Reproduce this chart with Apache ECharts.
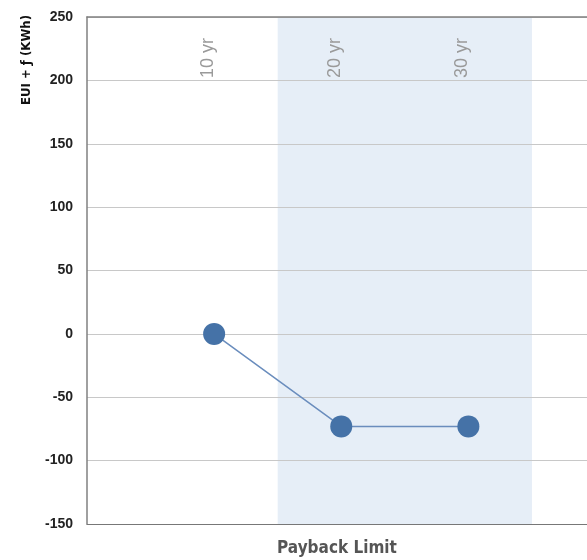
<!DOCTYPE html>
<html>
<head>
<meta charset="utf-8">
<script src="https://cdn.jsdelivr.net/npm/echarts@6/dist/echarts.min.js"></script>
<style>
  html, body { margin: 0; padding: 0; background: #fff; overflow: hidden; }
  #chart { width: 587px; height: 560px; }
</style>
</head>
<body>
<div id="chart"></div>
<script>
// Payback limit scenarios and resulting energy values
const categories = ['10 yr', '20 yr', '30 yr'];
const positions = [1, 2, 3];
const euiValues = [0, -73, -73];
// Shaded band spanning the 20 yr and 30 yr scenarios
const bandRange = [1.5, 3.5];
const yTicks = { min: -150, max: 250, step: 50 };

const seriesData = positions.map((p, i) => [p, euiValues[i]]);

const chart = echarts.init(document.getElementById('chart'), null, {
  renderer: 'canvas', width: 587, height: 560
});

const condensed = "'Liberation Sans Narrow', 'DejaVu Sans Condensed', 'Roboto Condensed', sans-serif";
const plain = "'Liberation Sans', Arial, sans-serif";

chart.setOption({
  animation: false,
  backgroundColor: '#ffffff',
  grid: { left: 87, right: 0, top: 17, bottom: 36, outerBoundsMode: 'none', containLabel: false },
  xAxis: [
    {
      type: 'value',
      position: 'bottom',
      min: 0,
      max: 3.933,
      interval: 1,
      name: 'Payback Limit',
      nameLocation: 'middle',
      nameGap: 16,
      nameTextStyle: { fontFamily: condensed, fontWeight: 'bold', fontSize: 17, color: '#555' },
      axisLine: { show: true, onZero: false, lineStyle: { color: '#777', width: 1 } },
      axisTick: { show: false },
      axisLabel: { show: false },
      splitLine: { show: false }
    },
    {
      type: 'value',
      position: 'top',
      min: 0,
      max: 3.933,
      interval: 1,
      axisLine: { show: true, onZero: false, lineStyle: { color: '#808080', width: 1.5 } },
      axisTick: { show: false },
      splitLine: { show: false },
      axisLabel: {
        inside: true,
        rotate: -90,
        margin: 21,
        color: '#9a9a9a',
        fontFamily: plain,
        fontSize: 18,
        verticalAlign: 'bottom',
        lineHeight: 12,
        formatter: function (v) {
          const r = Math.round(v);
          const idx = positions.indexOf(r);
          return idx >= 0 && Math.abs(v - r) < 1e-6 ? categories[idx] : '';
        }
      }
    }
  ],
  yAxis: {
    type: 'value',
    min: yTicks.min,
    max: yTicks.max,
    interval: yTicks.step,
    axisLine: { show: true, lineStyle: { color: '#808080', width: 1.5 } },
    axisTick: { show: false },
    axisLabel: {
      margin: 14,
      color: '#222',
      fontWeight: 'bold',
      fontSize: 14,
      fontFamily: plain
    },
    splitLine: { show: true, lineStyle: { color: '#c8c8c8', width: 1 } }
  },
  graphic: [
    {
      type: 'text',
      x: 27,
      y: 15,
      rotation: Math.PI / 2,
      style: {
        text: 'EUI + ƒ (KWh)',
        fontFamily: condensed,
        fontWeight: 'bold',
        fontSize: 13,
        fill: '#111',
        textAlign: 'right',
        textVerticalAlign: 'middle'
      }
    }
  ],
  series: [
    {
      // background band, drawn beneath the grid lines and axis labels
      type: 'line',
      xAxisIndex: 0,
      data: [],
      z: -1,
      markArea: {
        silent: true,
        z: -1,
        itemStyle: { color: '#e6eef7' },
        data: [[{ xAxis: bandRange[0] }, { xAxis: bandRange[1] }]]
      }
    },
    {
      type: 'line',
      xAxisIndex: 0,
      data: seriesData,
      symbol: 'circle',
      symbolSize: 22,
      itemStyle: { color: '#4572A7' },
      lineStyle: { color: '#6a8dbd', width: 1.5 },
      z: 5
    }
  ]
});
</script>
</body>
</html>
